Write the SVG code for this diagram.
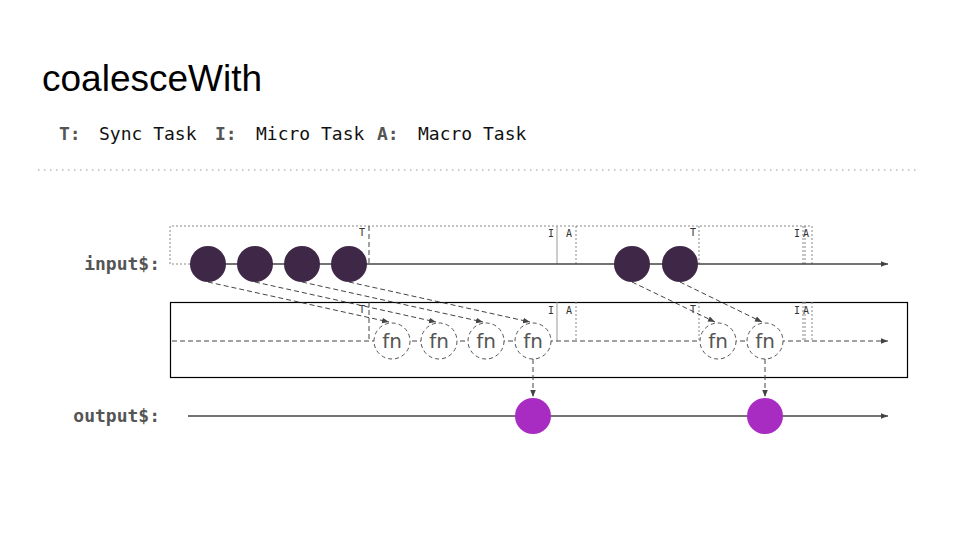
<svg xmlns="http://www.w3.org/2000/svg" width="960" height="540" viewBox="0 0 960 540">
<style>
.title{font-family:"Liberation Sans",Arial,sans-serif;font-size:37px;fill:#000}
.mono{font-family:"DejaVu Sans Mono","Liberation Mono",monospace;font-size:18px;fill:#111}
.monob{font-family:"DejaVu Sans Mono","Liberation Mono",monospace;font-size:18px;font-weight:bold;fill:#555}
.lab{font-family:"DejaVu Sans Mono","Liberation Mono",monospace;font-size:10px;fill:#333}
.fn{font-family:"DejaVu Sans","Noto Sans",sans-serif;font-size:20px;fill:#555;text-anchor:middle}
.axis{stroke:#444;stroke-width:1.3;fill:none}
.dot{stroke:#888;stroke-width:1;stroke-dasharray:2 2;fill:none}
.dash{stroke:#444;stroke-width:1;stroke-dasharray:5 3;fill:none}
.solidg{stroke:#999;stroke-width:1;fill:none}
.in{fill:#3f2747}
.out{fill:#a82bc2}
.fnc{fill:#fff;stroke:#555;stroke-width:1;stroke-dasharray:4 3}
</style>
<defs>
<marker id="arr" viewBox="0 0 10 10" refX="10" refY="5" markerWidth="7" markerHeight="7" markerUnits="userSpaceOnUse" orient="auto">
<path d="M0,1 L10,5 L0,9 Z" fill="#444"/>
</marker>
</defs>
<rect width="960" height="540" fill="#fff"/>
<text class="title" x="42" y="91">coalesceWith</text>
<g id="legend">
<text class="monob" x="59" y="140">T:</text>
<text class="mono" x="99" y="140">Sync Task</text>
<text class="monob" x="215" y="140">I:</text>
<text class="mono" x="256" y="140">Micro Task</text>
<text class="monob" x="377" y="140">A:</text>
<text class="mono" x="418" y="140">Macro Task</text>
</g>
<line x1="38" y1="170" x2="920" y2="170" stroke="#bbb" stroke-width="1.5" stroke-dasharray="1.5 4.5"/>

<g id="input-frames">
<path class="dot" d="M190,264 H170 V226 H812"/>
<line class="dash" x1="369" y1="226" x2="369" y2="264"/>
<line class="solidg" x1="557" y1="226" x2="557" y2="264"/>
<line class="dot" x1="576" y1="226" x2="576" y2="264"/>
<line class="dot" x1="699" y1="226" x2="699" y2="264"/>
<line class="dot" x1="803" y1="226" x2="803" y2="264"/>
<line class="dot" x1="805" y1="226" x2="805" y2="264"/>
<line class="dot" x1="812" y1="226" x2="812" y2="264"/>
<text class="lab" x="359" y="236">T</text>
<text class="lab" x="548" y="237">I</text>
<text class="lab" x="566" y="237">A</text>
<text class="lab" x="690" y="236">T</text>
<text class="lab" x="794" y="237">I</text>
<text class="lab" x="803" y="237">A</text>
</g>

<g id="operator-box">
<rect x="170.5" y="302.5" width="737" height="75" fill="none" stroke="#000" stroke-width="1.2"/>
<line class="dash" x1="369" y1="302" x2="369" y2="341"/>
<line class="solidg" x1="557" y1="302" x2="557" y2="341"/>
<line class="dot" x1="576" y1="302" x2="576" y2="341"/>
<line class="dot" x1="699" y1="302" x2="699" y2="341"/>
<line class="dot" x1="803" y1="302" x2="803" y2="341"/>
<line class="dot" x1="805" y1="302" x2="805" y2="341"/>
<line class="dot" x1="812" y1="302" x2="812" y2="341"/>
<text class="lab" x="359" y="313">T</text>
<text class="lab" x="548" y="314">I</text>
<text class="lab" x="566" y="314">A</text>
<text class="lab" x="690" y="313">T</text>
<text class="lab" x="794" y="314">I</text>
<text class="lab" x="803" y="314">A</text>
</g>

<g id="axes">
<line class="axis" x1="190" y1="264" x2="888" y2="264" marker-end="url(#arr)"/>
<line class="dash" x1="172" y1="341" x2="888" y2="341" stroke-dasharray="6 3 2 3" marker-end="url(#arr)"/>
<line class="axis" x1="188" y1="416" x2="888" y2="416" marker-end="url(#arr)"/>
<text class="monob" x="160" y="270" text-anchor="end">input$:</text>
<text class="monob" x="160" y="422" text-anchor="end">output$:</text>
</g>

<g id="connectors">
<line class="dash" x1="208" y1="282" x2="389" y2="322" marker-end="url(#arr)"/>
<line class="dash" x1="255" y1="282" x2="436" y2="322" marker-end="url(#arr)"/>
<line class="dash" x1="302" y1="282" x2="483" y2="322" marker-end="url(#arr)"/>
<line class="dash" x1="349" y1="282" x2="530" y2="322" marker-end="url(#arr)"/>
<line class="dash" x1="632" y1="282" x2="715" y2="322" marker-end="url(#arr)"/>
<line class="dash" x1="680" y1="282" x2="762" y2="322" marker-end="url(#arr)"/>
<line class="dash" x1="533" y1="359" x2="533" y2="397" marker-end="url(#arr)"/>
<line class="dash" x1="765" y1="359" x2="765" y2="397" marker-end="url(#arr)"/>
</g>

<g id="in1"><circle class="in" cx="208" cy="264" r="18"/></g>
<g id="in2"><circle class="in" cx="255" cy="264" r="18"/></g>
<g id="in3"><circle class="in" cx="302" cy="264" r="18"/></g>
<g id="in4"><circle class="in" cx="349" cy="264" r="18"/></g>
<g id="in5"><circle class="in" cx="632" cy="264" r="18"/></g>
<g id="in6"><circle class="in" cx="680" cy="264" r="18"/></g>

<g id="fn1"><circle class="fnc" cx="392" cy="341" r="18"/><text class="fn" x="392" y="348">fn</text></g>
<g id="fn2"><circle class="fnc" cx="439" cy="341" r="18"/><text class="fn" x="439" y="348">fn</text></g>
<g id="fn3"><circle class="fnc" cx="486" cy="341" r="18"/><text class="fn" x="486" y="348">fn</text></g>
<g id="fn4"><circle class="fnc" cx="533" cy="341" r="18"/><text class="fn" x="533" y="348">fn</text></g>
<g id="fn5"><circle class="fnc" cx="718" cy="341" r="18"/><text class="fn" x="718" y="348">fn</text></g>
<g id="fn6"><circle class="fnc" cx="765" cy="341" r="18"/><text class="fn" x="765" y="348">fn</text></g>

<g id="out1"><circle class="out" cx="533" cy="416" r="18"/></g>
<g id="out2"><circle class="out" cx="765" cy="416" r="18"/></g>
</svg>
